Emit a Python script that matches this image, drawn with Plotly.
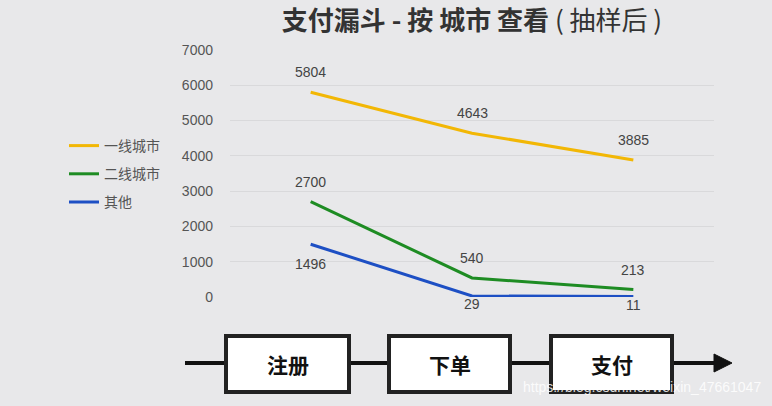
import plotly.graph_objects as go

# 数据
steps = ["注册", "下单", "支付"]
tier1 = [5804, 4643, 3885]
tier2 = [2700, 540, 213]
others = [1496, 29, 11]

series = [
    ("一线城市", tier1, "#f2b705", [20, 20, 20]),
    ("二线城市", tier2, "#1e8c23", [20, 20, 19]),
    ("其他", others, "#1d4fc4", [-20, -8, -8]),
]

W, H = 772, 406
L, R, T, B = 230, 714, 50, 297  # plot area in pixels

FONT = "Liberation Sans, Arial, Noto Sans CJK SC, sans-serif"
CJK = "Noto Sans CJK SC, sans-serif"


def px(x):
    return (x - L) / (R - L)


def py(y):
    return (B - y) / (B - T)


fig = go.Figure()
annotations = []

for name, values, color, shifts in series:
    fig.add_trace(go.Scatter(
        x=steps, y=values, name=name, mode="lines",
        line=dict(color=color, width=3),
        legendgroup=name,
        hoverinfo="x+y+name",
    ))
    for step, v, s in zip(steps, values, shifts):
        annotations.append(dict(
            x=step, y=v, xref="x", yref="y", text=str(v), showarrow=False,
            yshift=s, font=dict(family=FONT, size=14, color="#444"),
        ))

# 流程图: 注册 -> 下单 -> 支付
shapes = []
line_y = 363
shapes.append(dict(type="line", xref="paper", yref="paper",
                   x0=px(185), x1=px(717), y0=py(line_y), y1=py(line_y),
                   line=dict(color="#111", width=4)))
shapes.append(dict(type="path", xref="paper", yref="paper",
                   path=f"M {px(714)},{py(354)} L {px(732)},{py(line_y)} L {px(714)},{py(372)} Z",
                   fillcolor="#111", line=dict(color="#111", width=1)))

boxes = [(226, 349), (389, 510), (551, 672)]
for (x0, x1), label in zip(boxes, steps):
    shapes.append(dict(type="rect", xref="paper", yref="paper",
                       x0=px(x0), x1=px(x1), y0=py(392), y1=py(336),
                       fillcolor="white", line=dict(color="#222", width=4)))
    annotations.append(dict(
        x=px((x0 + x1) / 2), y=py(364), xref="paper", yref="paper",
        xanchor="center", yanchor="middle",
        text=f"<b>{label}</b>", showarrow=False,
        font=dict(family=CJK, size=21, color="#111"),
    ))

annotations.append(dict(
    x=px(763), y=py(387), xref="paper", yref="paper",
    xanchor="right", yanchor="middle",
    text="https://blog.csdn.net/weixin_47661047", showarrow=False,
    font=dict(family=FONT, size=14, color="rgba(255,255,255,0.85)"),
))

fig.update_layout(
    width=W, height=H,
    margin=dict(l=L, r=W - R, t=T, b=H - B, pad=0),
    paper_bgcolor="#e8e8ea", plot_bgcolor="#e8e8ea",
    title=dict(
        text="<b>支付漏斗 - 按 城市 查看</b> ( 抽样后 )",
        x=0.5, xref="paper", y=1 - 21 / H, yref="container",
        xanchor="center", yanchor="middle",
        font=dict(family=CJK, size=26, color="#333"),
    ),
    xaxis=dict(range=[-0.5, 2.5], showgrid=False, showticklabels=False,
               zeroline=False, showline=False, fixedrange=True),
    yaxis=dict(range=[0, 7000], dtick=1000, showgrid=True, gridcolor="#d9d9db",
               gridwidth=1, zeroline=False, showline=False, ticklabelstandoff=16,
               tickfont=dict(family=FONT, size=14, color="#555"), fixedrange=True),
    legend=dict(
        xref="container", yref="container", x=64 / W, y=1 - 130 / H,
        xanchor="left", yanchor="top", bgcolor="rgba(0,0,0,0)",
        tracegroupgap=7, traceorder="grouped",
        font=dict(family=CJK, size=14, color="#555"),
    ),
    shapes=shapes,
    annotations=annotations,
    showlegend=True,
)

# page body has a default 8px margin; drop it so the figure fills the window
fig.write_html("out.html", config={"displayModeBar": False},
               post_script="document.body.style.margin='0';")
